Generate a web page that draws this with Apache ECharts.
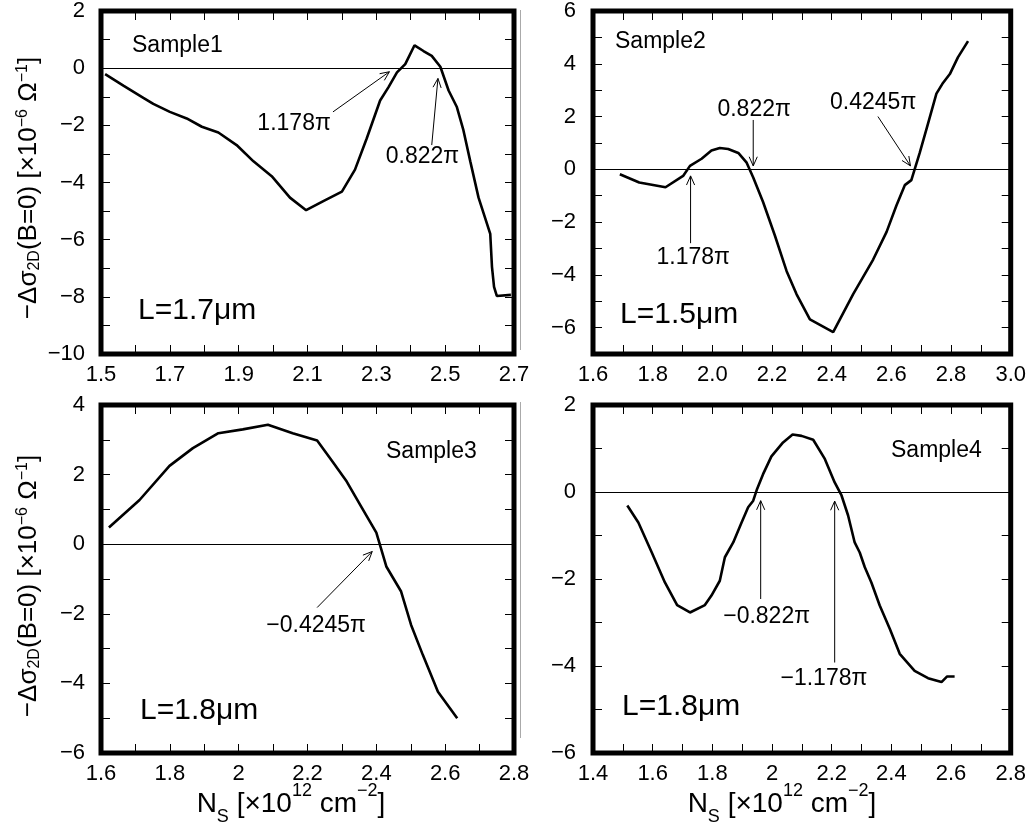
<!DOCTYPE html>
<html>
<head>
<meta charset="utf-8">
<script src="https://cdn.jsdelivr.net/npm/echarts@6/dist/echarts.min.js"></script>
<style>
  html, body { margin: 0; padding: 0; background: #fff; }
  #chart { width: 1029px; height: 826px; }
</style>
</head>
<body>
<div id="chart"></div>
<script>
const FONT = '"Liberation Sans", Arial, sans-serif'

// Sample1, L=1.7um
const ns1 = [1.512, 1.565, 1.623, 1.652, 1.70, 1.749, 1.793, 1.841, 1.894, 1.943, 1.996, 2.049, 2.096, 2.146, 2.20, 2.238, 2.272, 2.311, 2.335, 2.360, 2.384, 2.411, 2.437, 2.461, 2.486, 2.510, 2.534, 2.553, 2.573, 2.597, 2.631, 2.636, 2.642, 2.650, 2.691]
const sig1 = [-0.21, -0.61, -1.04, -1.25, -1.53, -1.76, -2.05, -2.25, -2.69, -3.26, -3.78, -4.53, -4.97, -4.65, -4.32, -3.55, -2.46, -1.13, -0.67, -0.15, 0.14, 0.80, 0.60, 0.43, 0.05, -0.78, -1.36, -2.17, -3.26, -4.53, -5.80, -6.95, -7.65, -7.97, -7.93]

// Sample2, L=1.5um
const ns2 = [1.690, 1.755, 1.843, 1.902, 1.925, 1.964, 1.997, 2.025, 2.053, 2.087, 2.115, 2.137, 2.170, 2.209, 2.249, 2.282, 2.327, 2.405, 2.472, 2.539, 2.584, 2.617, 2.645, 2.667, 2.678, 2.695, 2.720, 2.751, 2.771, 2.796, 2.823, 2.857]
const sig2 = [-0.19, -0.50, -0.68, -0.25, 0.13, 0.40, 0.71, 0.81, 0.77, 0.62, 0.25, -0.31, -1.24, -2.49, -3.86, -4.73, -5.69, -6.17, -4.73, -3.42, -2.37, -1.37, -0.60, -0.41, 0.00, 0.62, 1.62, 2.87, 3.24, 3.61, 4.24, 4.86]

// Sample3, L=1.8um
const ns3 = [1.623, 1.712, 1.799, 1.867, 1.941, 2.012, 2.085, 2.157, 2.228, 2.273, 2.314, 2.356, 2.400, 2.429, 2.472, 2.501, 2.535, 2.579, 2.635]
const sig3 = [0.48, 1.27, 2.25, 2.76, 3.19, 3.30, 3.43, 3.19, 2.98, 2.37, 1.80, 1.08, 0.33, -0.64, -1.36, -2.32, -3.18, -4.24, -5.00]

// Sample4, L=1.8um
const ns4 = [1.515, 1.552, 1.597, 1.641, 1.682, 1.725, 1.775, 1.797, 1.825, 1.842, 1.870, 1.898, 1.920, 1.937, 1.950, 1.970, 1.998, 2.037, 2.069, 2.099, 2.138, 2.177, 2.210, 2.233, 2.255, 2.277, 2.294, 2.311, 2.333, 2.361, 2.395, 2.428, 2.478, 2.523, 2.568, 2.587, 2.612]
const sig4 = [-0.31, -0.70, -1.39, -2.08, -2.60, -2.77, -2.60, -2.38, -2.04, -1.50, -1.16, -0.70, -0.35, -0.20, 0.07, 0.41, 0.82, 1.14, 1.32, 1.29, 1.20, 0.76, 0.22, -0.08, -0.54, -1.16, -1.39, -1.73, -2.08, -2.61, -3.15, -3.72, -4.11, -4.28, -4.37, -4.24, -4.24]

// axis ranges [xmin, xmax, ymin, ymax]
const ranges = [
  [1.5, 2.7, -10, 2],
  [1.6, 3.0, -7, 6],
  [1.6, 2.8, -6, 4],
  [1.4, 2.8, -6, 2]
]

// arrow annotations (data units): label, label centre, arrow tail, arrow tip
const notes1 = [
  { text: '1.178\u03c0', at: [2.061, -1.94], from: [2.174, -1.53], to: [2.338, -0.125] },
  { text: '0.822\u03c0', at: [2.434, -3.09], from: [2.461, -2.69], to: [2.479, -0.36] }
]
const notes2 = [
  { text: '0.822\u03c0', at: [2.140, 2.27], from: [2.137, 1.87], to: [2.137, 0.13] },
  { text: '0.4245\u03c0', at: [2.539, 2.52], from: [2.555, 2.0], to: [2.664, 0.13] },
  { text: '1.178\u03c0', at: [1.936, -3.36], from: [1.927, -2.80], to: [1.927, -0.25] }
]
const notes3 = [
  { text: '\u22120.4245\u03c0', at: [2.225, -2.35], from: [2.228, -1.82], to: [2.388, -0.21] }
]
const notes4 = [
  { text: '\u22120.822\u03c0', at: [1.982, -2.86], from: [1.962, -2.46], to: [1.962, -0.20] },
  { text: '\u22121.178\u03c0', at: [2.174, -4.28], from: [2.210, -3.92], to: [2.210, -0.21] }
]

const grids = [
  { left: 101, top: 8, width: 413, height: 346 },
  { left: 593, top: 8, width: 418, height: 346 },
  { left: 101, top: 405, width: 413, height: 348 },
  { left: 593, top: 405, width: 418, height: 348 }
]

const minus = v => (v < 0 ? '\u2212' + Math.abs(v) : String(v))

// which x ticks carry a label, and how they are written
const xFormat = [
  v => (Math.round(v * 10) % 2 === 1 ? (Math.round(v * 10) / 10).toFixed(1) : ''),
  v => (Math.round(v * 10) % 2 === 0 ? (Math.round(v * 10) / 10).toFixed(1) : ''),
  v => (Math.round(v * 10) % 2 === 0 ? String(Math.round(v * 10) / 10) : ''),
  v => (Math.round(v * 10) % 2 === 0 ? String(Math.round(v * 10) / 10) : '')
]
const yFormat = v => (Math.round(v) % 2 === 0 ? minus(Math.round(v)) : '')

const tick = { inside: true, length: 9, lineStyle: { color: '#000', width: 1 } }
const labelStyle = { color: '#000', fontSize: 22, fontFamily: FONT }
const noLine = { show: false, onZero: false }

const xAxis = []
const yAxis = []
ranges.forEach((r, g) => {
  const xb = { type: 'value', gridIndex: g, min: r[0], max: r[1], interval: 0.1,
    axisLine: noLine, splitLine: { show: false }, axisTick: tick }
  xAxis.push({ ...xb, position: 'bottom', axisLabel: { ...labelStyle, margin: 10, formatter: xFormat[g] } })
  xAxis.push({ ...xb, position: 'top', axisLabel: { show: false } })
  const yb = { type: 'value', gridIndex: g, min: r[2], max: r[3], interval: 1,
    axisLine: noLine, splitLine: { show: false }, axisTick: tick }
  yAxis.push({ ...yb, position: 'left', axisLabel: { ...labelStyle, margin: g % 2 ? 17 : 16, formatter: yFormat } })
  yAxis.push({ ...yb, position: 'right', axisLabel: { show: false } })
})

function curve(g, xs, ys) {
  return {
    type: 'line', xAxisIndex: g * 2, yAxisIndex: g * 2,
    data: xs.map((x, i) => [x, ys[i]]),
    showSymbol: false, symbol: 'none', silent: true,
    lineStyle: { color: '#000', width: 2.6 },
    markLine: {
      silent: true, symbol: 'none', label: { show: false },
      lineStyle: { color: '#000', width: 1, type: 'solid' },
      data: [{ yAxis: 0 }]
    }
  }
}

function arrows(g, notes) {
  return {
    type: 'custom', xAxisIndex: g * 2, yAxisIndex: g * 2, silent: true,
    data: notes.map(n => n.at),
    renderItem: (params, api) => {
      const n = notes[params.dataIndex]
      const a = api.coord(n.from)
      const b = api.coord(n.to)
      const t = api.coord(n.at)
      const ang = Math.atan2(b[1] - a[1], b[0] - a[0])
      const h = 10, w = 0.42
      const p1 = [b[0] - h * Math.cos(ang - w), b[1] - h * Math.sin(ang - w)]
      const p2 = [b[0] - h * Math.cos(ang + w), b[1] - h * Math.sin(ang + w)]
      return {
        type: 'group',
        children: [
          { type: 'line', shape: { x1: a[0], y1: a[1], x2: b[0], y2: b[1] }, style: { stroke: '#000', lineWidth: 1 } },
          { type: 'polyline', shape: { points: [p1, b, p2] }, style: { stroke: '#000', lineWidth: 1, fill: null } },
          { type: 'text', x: t[0], y: t[1], style: { text: n.text, fill: '#000', fontSize: 23, fontFamily: FONT, align: 'center', verticalAlign: 'middle' } }
        ]
      }
    }
  }
}

function plain(text, x, y, size) {
  return { type: 'text', left: x, top: y - size / 2 - 1, silent: true,
    style: { text, fill: '#000', fontSize: size, fontFamily: FONT } }
}

const yTitle = '{m|\u2212\u0394\u03c3}{b|2D}{m|(B=0) [\u00d710}{t|\u22126}{m| \u03a9}{t|\u22121}{m|]}'
const yRich = {
  m: { fontSize: 26, lineHeight: 28, fontFamily: FONT, color: '#000' },
  b: { fontSize: 16, lineHeight: 12, verticalAlign: 'bottom', fontFamily: FONT, color: '#000' },
  t: { fontSize: 16, lineHeight: 16, verticalAlign: 'top', fontFamily: FONT, color: '#000' }
}
const xTitle = '{m|N}{b|S}{m| [\u00d710}{t|12}{m| cm}{t|\u22122}{m|]}'
const xRich = {
  m: { fontSize: 28, lineHeight: 44, fontFamily: FONT, color: '#000' },
  b: { fontSize: 18, lineHeight: 16, verticalAlign: 'bottom', fontFamily: FONT, color: '#000' },
  t: { fontSize: 18, lineHeight: 16, verticalAlign: 'top', fontFamily: FONT, color: '#000' }
}

function richText(text, rich, x, y, rot) {
  return { type: 'text', x, y, rotation: rot, silent: true,
    style: { text, rich, align: 'center', verticalAlign: 'middle' } }
}

const chart = echarts.init(document.getElementById('chart'), null, { renderer: 'canvas' })
chart.setOption({
  animation: false,
  backgroundColor: '#fff',
  grid: grids.map(g => ({ ...g, show: true, borderColor: '#000', borderWidth: 5, backgroundColor: 'transparent', containLabel: false })),
  xAxis,
  yAxis,
  series: [
    curve(0, ns1, sig1), curve(1, ns2, sig2), curve(2, ns3, sig3), curve(3, ns4, sig4),
    arrows(0, notes1), arrows(1, notes2), arrows(2, notes3), arrows(3, notes4)
  ],
  graphic: [
    plain('Sample1', 132, 47, 23),
    plain('Sample2', 615, 43, 23),
    plain('Sample3', 386, 453, 23),
    plain('Sample4', 891, 452, 23),
    plain('L=1.7\u03bcm', 138, 312, 30),
    plain('L=1.5\u03bcm', 620, 316, 30),
    plain('L=1.8\u03bcm', 140, 712, 30),
    plain('L=1.8\u03bcm', 622, 708, 30),
    richText(yTitle, yRich, 29, 188, Math.PI / 2),
    richText(yTitle, yRich, 29, 586, Math.PI / 2),
    richText(xTitle, xRich, 291, 804, 0),
    richText(xTitle, xRich, 782, 804, 0),
    { type: 'line', silent: true, shape: { x1: 520.5, y1: 10, x2: 520.5, y2: 350 }, style: { stroke: '#aaa', lineWidth: 1 } },
    { type: 'line', silent: true, shape: { x1: 520.5, y1: 402, x2: 520.5, y2: 738 }, style: { stroke: '#aaa', lineWidth: 1 } }
  ]
})
</script>
</body>
</html>
